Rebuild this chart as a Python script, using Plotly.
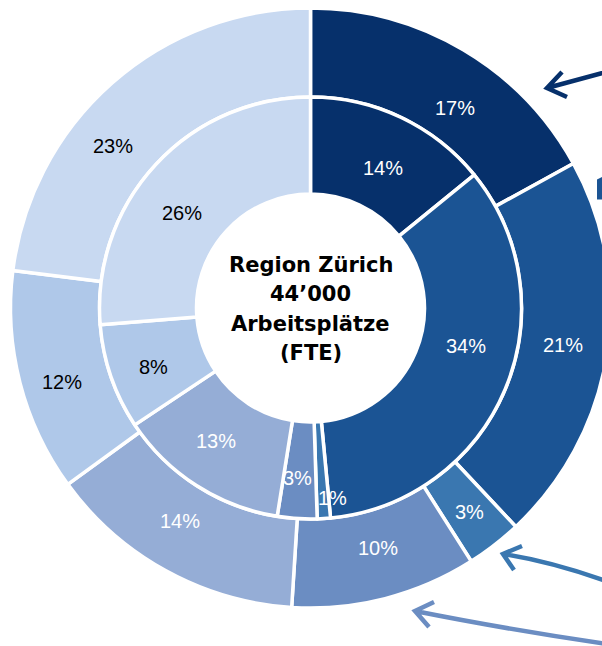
import math
import plotly.graph_objects as go

# ---- data ----
outer_labels = ["A", "B", "C", "D", "E", "F", "G"]
outer_values = [17, 21, 3, 10, 14, 12, 23]
inner_labels = ["a", "b", "c", "d", "e", "f", "g"]
inner_values = [14, 34, 1, 3, 13, 8, 26]
center_lines = ["Region Zürich", "44’000", "Arbeitsplätze", "(FTE)"]

# ---- style ----
ring_colors = ["#06306B", "#1B5494", "#3A77B0", "#6B8DC2", "#95ADD6", "#AFC8E9", "#C8D9F1"]
outer_txt = ["white", "white", "white", "white", "white", "black", "black"]
inner_txt = ["white", "white", "white", "white", "white", "black", "black"]
# label placement tweaks (angle offset in degrees, radius in px)
outer_lab_dang = [5.2, -0.7, -0.2, -1.3, 2.7, -2.2, -9.2]
outer_lab_r = [247, 255, 259, 249, 250, 259, 255]
inner_lab_dang = [1.9, -9.0, -2.9, 0.6, 2.7, -1.5, -6.2]
inner_lab_r = [158, 160, 191, 170, 163, 168, 160]

W, H = 622, 646
CX, CY = 310.5, 308.0
R_OUT, R_MID, R_HOLE = 300.0, 211.0, 114.0
LINE_GAP = 29.3

font = "Liberation Sans, Arial, Helvetica, sans-serif"


def px(x):
    return x / W


def py(y):
    return 1 - y / H


def dom(r):
    return dict(x=[px(CX - r), px(CX + r)], y=[py(CY + r), py(CY - r)])


def mid_angles(values):
    tot = sum(values)
    out, cum = [], 0
    for v in values:
        out.append((cum + v / 2) / tot * 360)
        cum += v
    return out


fig = go.Figure()
for vals, labs, hole, rr in [
    (outer_values, outer_labels, R_MID / R_OUT, R_OUT),
    (inner_values, inner_labels, R_HOLE / R_MID, R_MID),
]:
    fig.add_trace(go.Pie(
        labels=labs, values=vals, sort=False, direction="clockwise",
        rotation=0, hole=hole, domain=dom(rr),
        marker=dict(colors=ring_colors, line=dict(color="white", width=3.5)),
        textinfo="none", hoverinfo="skip", showlegend=False,
    ))

# percentage labels
for vals, dang, rads, cols in [
    (outer_values, outer_lab_dang, outer_lab_r, outer_txt),
    (inner_values, inner_lab_dang, inner_lab_r, inner_txt),
]:
    for v, a, d, r, c in zip(vals, mid_angles(vals), dang, rads, cols):
        t = math.radians(a + d)
        x = CX + r * math.sin(t)
        y = CY - r * math.cos(t)
        fig.add_annotation(
            x=px(x), y=py(y), xref="paper", yref="paper", text=f"{v}%",
            showarrow=False, font=dict(family=font, size=20, color=c),
            xanchor="center", yanchor="middle",
        )

# centre text, one line per annotation for exact line spacing
n = len(center_lines)
for i, s in enumerate(center_lines):
    yy = CY + 1 + (i - (n - 1) / 2) * LINE_GAP
    fig.add_annotation(
        x=px(CX), y=py(yy), xref="paper", yref="paper", text=f"<b>{s}</b>",
        showarrow=False, font=dict(family="DejaVu Sans, sans-serif", size=21, color="black"),
        align="center", xanchor="center", yanchor="middle",
    )


# ---- decorative arrows (cropped at the right edge) ----
def P(x, y):
    return f"{px(x):.5f},{py(y):.5f}"


arrows = [
    ("#06306B", f"M{P(625, 67)} L{P(547, 88)} M{P(562, 72)} L{P(547, 88)} L{P(567, 97)}"),
    ("#3A77B0", f"M{P(620, 586)} Q{P(555, 562)} {P(503, 554)} M{P(522, 546)} L{P(503, 554)} L{P(514, 570)}"),
    ("#6B8DC2", f"M{P(620, 646)} Q{P(510, 630)} {P(415, 611)} M{P(434, 602)} L{P(415, 611)} L{P(429, 627)}"),
]
shapes = []
for col, path in arrows:
    shapes.append(dict(type="path", xref="paper", yref="paper", path=path,
                       line=dict(color=col, width=4.5), layer="above"))
shapes.append(dict(type="path", xref="paper", yref="paper",
                   path=f"M{P(597, 179.5)} L{P(604, 176)} L{P(604, 199.5)} L{P(597, 199.5)} Z",
                   fillcolor="#1B5494", line=dict(width=0), layer="above"))

fig.update_layout(
    width=W, height=H, margin=dict(l=0, r=0, t=0, b=0),
    paper_bgcolor="white", plot_bgcolor="white", shapes=shapes,
)
fig.write_html(
    "out.html",
    config={"displayModeBar": False},
    post_script="document.body.style.margin='0';"
                "document.documentElement.style.overflow='hidden';"
                "document.body.style.overflow='hidden';",
)
